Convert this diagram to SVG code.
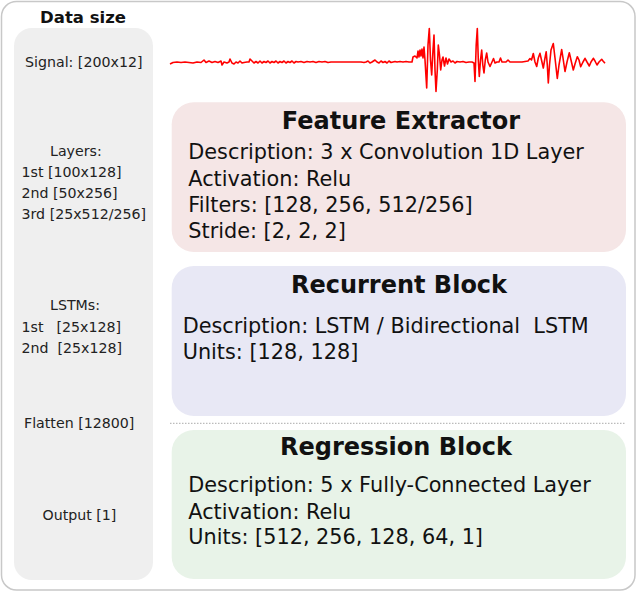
<svg xmlns="http://www.w3.org/2000/svg" width="640" height="592" viewBox="0 0 640 592">
<style>
.frame{fill:#ffffff;stroke:#c8c8c8;stroke-width:1.5}
.col{fill:#efefef}
.side{font-family:"DejaVu Sans","Liberation Sans",sans-serif;font-size:14.2px;fill:#222}
.head{font-family:"DejaVu Sans","Liberation Sans",sans-serif;font-weight:bold;fill:#111}
.title{font-family:"DejaVu Sans","Liberation Sans",sans-serif;font-weight:bold;font-size:24px;fill:#111;text-anchor:middle}
.body{font-family:"DejaVu Sans","Liberation Sans",sans-serif;font-size:20.8px;fill:#111}
.sig{fill:none;stroke:#ff0000;stroke-width:1.6;stroke-linejoin:round}
.sep{stroke:#aaaaaa;stroke-width:1;stroke-dasharray:1.5 1.5}
</style>
<rect class="frame" x="1.5" y="1.5" width="633.5" height="588.5" rx="15"/>
<g id="data-size">
<rect class="col" x="14" y="28" width="139" height="552" rx="18"/>
<text class="head" x="83" y="23" font-size="16.5" text-anchor="middle">Data size</text>
<text class="side" x="25" y="66.5">Signal: [200x12]</text>
<text class="side" x="50" y="156">Layers:</text>
<text class="side" x="21.5" y="177">1st [100x128]</text>
<text class="side" x="21.5" y="198">2nd [50x256]</text>
<text class="side" x="21.5" y="219">3rd [25x512/256]</text>
<text class="side" x="50" y="310">LSTMs:</text>
<text class="side" y="331.5"><tspan x="21.5">1st</tspan><tspan x="56.5">[25x128]</tspan></text>
<text class="side" y="353"><tspan x="21.5">2nd</tspan><tspan x="57.5">[25x128]</tspan></text>
<text class="side" x="24" y="427.5">Flatten [12800]</text>
<text class="side" x="42.5" y="520">Output [1]</text>
</g>
<g id="signal">
<polyline class="sig" points="170,64 173,62.5 177,62 181,62.5 185,62 189,62.5 193,63 197,62 201,62.5 204,60 206,62.5 209,61 212,62.5 215,61.5 218,62.5 221,61 222,65 224,62 227,63 229,62 230,59 232,63 234,64 236,62 238,63 240,61 242,63 244,62.5 247,62 249,62 250,59 252,61 254,63 256,61.5 258,63 260,61 262,63 264,61.5 266,62.5 268,61 270,63 272,61.5 274,62.5 276,61 278,63 280,61.5 282,62.5 284,61 286,63 288,61.5 290,62.5 292,61 294,63 296,61.5 298,62 301,61.5 304,62.5 307,61.5 310,62 313,61.5 316,62.5 319,61.5 322,62 325,61.5 328,62.5 331,62 334,62 337,62 340,62 343,62 346,62 349,62 352,62 355,62 358,62 361,62 364,62.5 366,62 368,61 370,63 372,62 375,60 377,62 379,63 381,61 383,62.5 385,61.5 387,63 389,61 391,62.5 393,62 395,61.5 397,62 400,61.5 403,62 406,61.5 409,62 412,62 413,57 415,56 417,58 418,51 419,57 420,50 421,56 422,49 423,58 424,47 425,60 426.7,88 428,45 429.3,28.5 430.5,60 431.7,75 433,50 434,35 435,70 436,91.5 437.3,70 438.3,45 439.5,55 440.7,70 442,60 443,57 444.5,66 446,58 447.5,64 449,59 451,62 453,61 455,63 457,61.5 460,62 463,61.5 466,62.5 469,62 472,62 474,63 475,81.5 476.2,45 477.3,28.5 478.3,60 479.3,76.5 480.5,60 481.7,50 482.8,65 484,73 485.3,60 486.7,53 488,62 490,66.5 492,62 493.5,58.5 495,63 497,62 499,62 500.5,58 502,62 504,62 506,62 508,60 510,62 513,62 516,62 519,62 522,62 525,61.5 528,61 530,58.5 531.5,60 533.3,53.5 535,62 536.7,66.5 538.3,58 540,53.3 541.5,60 543.3,68 545,58 546.2,51.7 547.3,65 548.3,83 549.5,65 551,50 553.3,43.5 555,58 557.3,78.5 559,65 561.7,49.5 563,58 565,71.5 567,62 569.3,52.7 571,60 573.3,70 575,64 577.3,56.7 579,60 580.7,66.7 583,62 585,58.3 587,62 589.3,66 591,62 593.3,58.3 595,61 597,65 599,62 601.7,59.3 603,61 605,63.3"/>
</g>
<g id="feature-extractor">
<rect x="171.7" y="102.3" width="454.3" height="149.7" rx="22" fill="#f5e6e6"/>
<text class="title" x="401" y="129">Feature Extractor</text>
<text class="body" x="188.3" y="159.3">Description: 3 x Convolution 1D Layer</text>
<text class="body" x="188.3" y="185.7">Activation: Relu</text>
<text class="body" x="188.3" y="211.7">Filters: [128, 256, 512/256]</text>
<text class="body" x="188.3" y="237.7">Stride: [2, 2, 2]</text>
</g>
<g id="recurrent-block">
<rect x="171.7" y="266" width="454.3" height="150" rx="22" fill="#e8e8f5"/>
<text class="title" x="399" y="293.3">Recurrent Block</text>
<text class="body" x="182.7" y="332.7" xml:space="preserve">Description: LSTM / Bidirectional  LSTM</text>
<text class="body" x="182.7" y="359.3">Units: [128, 128]</text>
</g>
<g id="connectors">
<line class="sep" x1="170" y1="423.3" x2="626" y2="423.3"/>
</g>
<g id="regression-block">
<rect x="171.7" y="430" width="454.3" height="149" rx="22" fill="#e8f3e8"/>
<text class="title" x="396" y="455">Regression Block</text>
<text class="body" x="188.3" y="491.7">Description: 5 x Fully-Connected Layer</text>
<text class="body" x="188.3" y="518.5">Activation: Relu</text>
<text class="body" x="188.3" y="544">Units: [512, 256, 128, 64, 1]</text>
</g>
</svg>
